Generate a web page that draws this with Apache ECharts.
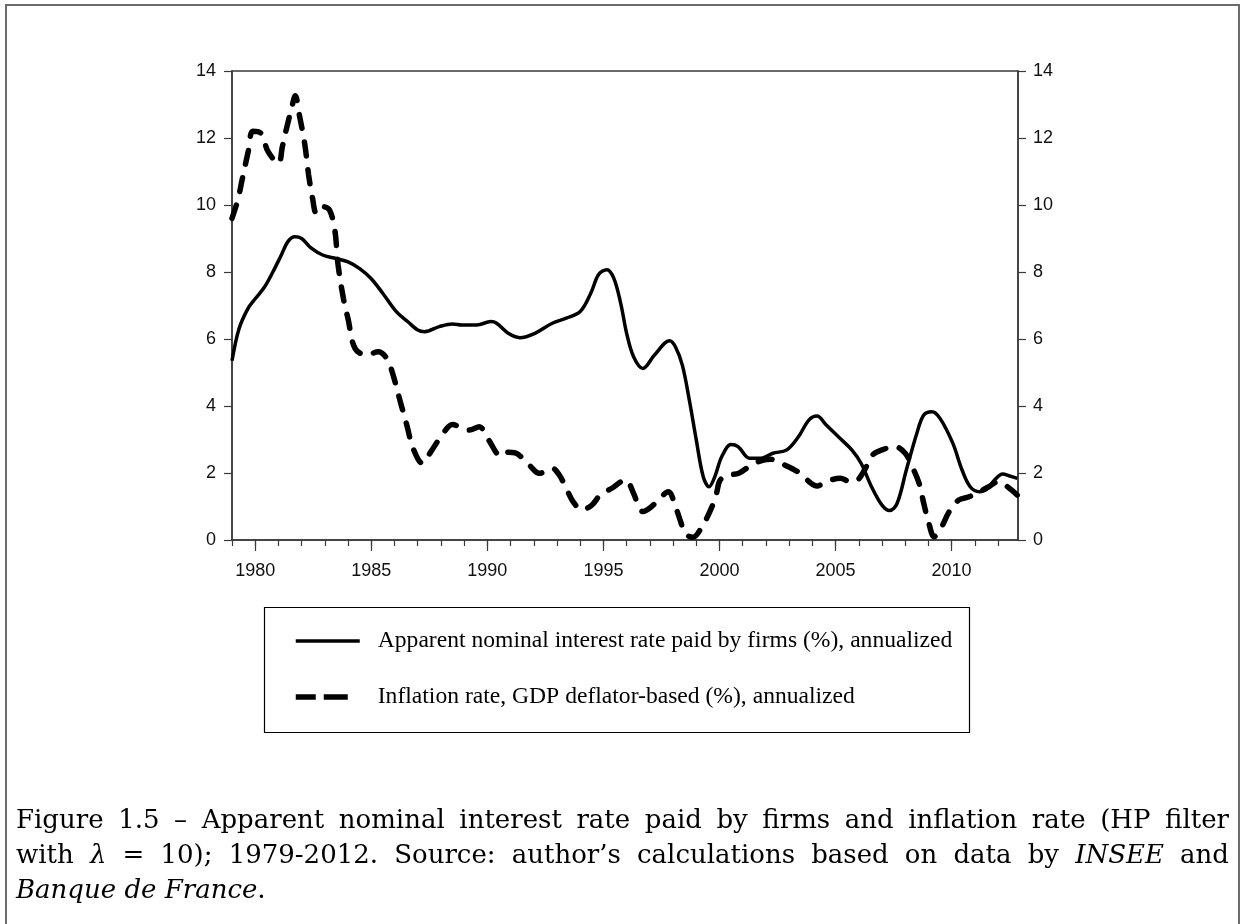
<!DOCTYPE html>
<html>
  <head>
    <meta charset="utf-8" />
    <style>
      html, body { margin: 0; height: 100%; background: #fff; }
      #container { width: 1245px; height: 924px; }
    </style>
  </head>
  <body>
    <div id="container"></div>
    <script src="https://cdn.jsdelivr.net/npm/echarts@6/dist/echarts.min.js"></script>
    <script>
      // apparent nominal interest rate paid by firms (%)
      const rateYears = [
        1979.0, 1979.3, 1979.68, 1980.0, 1980.4, 1980.76, 1981.12, 1981.4, 1981.7, 1982.0,
        1982.4, 1982.93, 1983.5, 1984.0, 1984.5, 1985.0, 1985.5, 1986.1, 1986.6, 1987.0,
        1987.3, 1987.93, 1988.5, 1988.9, 1989.55, 1990.15, 1990.4, 1990.9, 1991.4, 1992.05,
        1992.8, 1993.4, 1994.0, 1994.45, 1994.8, 1995.15, 1995.45, 1995.75, 1996.0, 1996.3,
        1996.7, 1997.2, 1997.85, 1998.1, 1998.4, 1998.7, 1999.0, 1999.3, 1999.55, 1999.8,
        2000.1, 2000.5, 2000.8, 2001.3, 2001.8, 2002.3, 2002.9, 2003.4, 2003.85, 2004.2,
        2004.6, 2005.2, 2005.7, 2006.1, 2006.55, 2007.0, 2007.33, 2007.65, 2008.05, 2008.5,
        2008.8, 2009.15, 2009.5, 2010.05, 2010.45, 2010.8, 2011.2, 2011.55, 2011.85, 2012.2,
        2012.5, 2012.83
      ]
      const rateValues = [
        5.35, 6.3, 6.9, 7.2, 7.55, 8.0, 8.5, 8.9, 9.05, 9.0,
        8.72, 8.5, 8.4, 8.3, 8.1, 7.8, 7.36, 6.8, 6.5, 6.27,
        6.22, 6.37, 6.45, 6.42, 6.42, 6.52, 6.47, 6.17, 6.04, 6.17,
        6.47, 6.62, 6.82, 7.36, 7.93, 8.07, 7.81, 7.05, 6.17, 5.47,
        5.12, 5.52, 5.95, 5.77, 5.22, 4.18, 2.99, 1.89, 1.59, 1.89,
        2.49, 2.85, 2.79, 2.44, 2.44, 2.59, 2.69, 3.08, 3.58, 3.7,
        3.43, 3.03, 2.69, 2.29, 1.59, 1.04, 0.88, 1.09, 2.09, 3.18,
        3.73, 3.83, 3.63, 2.89, 2.09, 1.59, 1.44, 1.54, 1.79, 1.97,
        1.91, 1.84
      ]

      // inflation rate, GDP deflator-based (%)
      const inflYears = [
        1979.0, 1979.25, 1979.45, 1979.7, 1979.9, 1980.25, 1980.55, 1981.0, 1981.17, 1981.35,
        1981.55, 1981.73, 1981.9, 1982.13, 1982.3, 1982.47, 1982.64, 1982.92, 1983.2, 1983.43,
        1983.57, 1983.8, 1984.0, 1984.3, 1984.8, 1985.3, 1985.67, 1985.9, 1986.25, 1986.53,
        1986.8, 1987.2, 1987.57, 1988.0, 1988.5, 1988.93, 1989.22, 1989.65, 1990.05, 1990.6,
        1990.9, 1991.2, 1991.8, 1992.24, 1992.8, 1993.1, 1993.4, 1993.7, 1994.07, 1994.5,
        1994.86, 1995.4, 1995.95, 1996.3, 1996.5, 1996.7, 1997.23, 1997.8, 1998.1, 1998.35,
        1998.5, 1998.85, 1999.25, 1999.65, 1999.87, 2000.03, 2000.4, 2000.83, 2001.5, 2002.2,
        2002.8, 2003.43, 2003.95, 2004.2, 2004.58, 2005.2, 2005.65, 2005.95, 2006.25, 2006.6,
        2007.0, 2007.55, 2008.0, 2008.3, 2008.6, 2008.8, 2009.0, 2009.25, 2009.5, 2009.9,
        2010.3, 2010.75, 2011.2, 2011.6, 2012.0, 2012.5, 2012.83
      ]
      const inflValues = [
        9.6, 10.15, 10.8, 11.6, 12.2, 12.14, 11.6, 11.24, 11.74, 12.29,
        12.84, 13.26, 12.69, 11.84, 10.9, 10.2, 9.75, 9.95, 9.85, 9.25,
        8.21, 7.21, 6.6, 5.72, 5.52, 5.62, 5.42, 5.02, 4.13, 3.43,
        2.74, 2.29, 2.64, 3.08, 3.45, 3.33, 3.28, 3.38, 2.99, 2.5,
        2.62, 2.6, 2.24, 1.99, 2.14, 1.94, 1.54, 1.14, 0.9, 1.04,
        1.34, 1.56, 1.8, 1.39, 1.04, 0.85, 1.09, 1.44, 1.0, 0.5,
        0.2, 0.08, 0.4, 0.95, 1.39, 1.79, 1.94, 1.99, 2.29, 2.41,
        2.24, 2.01, 1.69, 1.61, 1.74, 1.84, 1.74, 1.79, 2.09, 2.54,
        2.69, 2.79, 2.59, 2.19, 1.69, 1.09, 0.55, 0.1, 0.3, 0.85,
        1.19, 1.29, 1.44, 1.59, 1.74, 1.54, 1.34
      ]

      const allYears = []
      for (let y = 1979; y <= 2012; y++) allYears.push(y)
      const labelYears = [1980, 1985, 1990, 1995, 2000, 2005, 2010]

      const seriesNames = [
        'Apparent nominal interest rate paid by firms (%), annualized',
        'Inflation rate, GDP deflator-based (%), annualized'
      ]

      // caption words, justified over the full width like the original
      const captionLine1 = 'Figure 1.5 – Apparent nominal interest rate paid by firms and inflation rate (HP filter'
        .split(' ').map((t) => ({ t, it: false }))
      const captionLine2 = [
        { t: 'with' }, { t: 'λ', it: true }, { t: '=' }, { t: '10);' }, { t: '1979-2012.' },
        { t: 'Source:' }, { t: 'author’s' }, { t: 'calculations' }, { t: 'based' }, { t: 'on' },
        { t: 'data' }, { t: 'by' }, { t: 'INSEE', it: true }, { t: 'and' }
      ]

      const CAP_FONT = 'DejaVu Serif'
      const CAP_SIZE = 26
      const measureCtx = document.createElement('canvas').getContext('2d')

      function justifyLine(words, y, x0, x1) {
        const widths = words.map((w) => {
          measureCtx.font = (w.it ? 'italic ' : '') + CAP_SIZE + 'px "' + CAP_FONT + '"'
          return measureCtx.measureText(w.t).width
        })
        const total = widths.reduce((a, b) => a + b, 0)
        const gap = (x1 - x0 - total) / (words.length - 1)
        let x = x0
        return words.map((w, i) => {
          const el = {
            type: 'text',
            x: x,
            y: y,
            style: {
              text: w.t,
              fill: '#000',
              font: (w.it ? 'italic ' : '') + CAP_SIZE + 'px "' + CAP_FONT + '"',
              verticalAlign: 'middle'
            }
          }
          x += widths[i] + gap
          return el
        })
      }

      const chart = echarts.init(document.getElementById('container'), null, { renderer: 'canvas' })

      const axisColor = '#3a3a3a'
      const labelStyle = { color: '#111', fontFamily: 'Liberation Sans', fontSize: 18 }

      const option = {
        backgroundColor: '#fff',
        animation: false,
        grid: {
          left: 232, right: 227, top: 71, bottom: 384,
          show: true, borderColor: axisColor, borderWidth: 1.5, backgroundColor: 'transparent'
        },
        xAxis: [
          {
            type: 'value', min: 1979, max: 2012.86,
            axisLine: { lineStyle: { color: axisColor, width: 1.5 } },
            axisTick: { show: true, length: 6, customValues: allYears, lineStyle: { color: axisColor, width: 1.2 } },
            axisLabel: { show: false },
            splitLine: { show: false }
          },
          {
            type: 'value', min: 1979, max: 2012.86, position: 'bottom',
            axisLine: { show: false },
            axisTick: { show: true, length: 11, customValues: labelYears, lineStyle: { color: axisColor, width: 1.2 } },
            axisLabel: Object.assign({ margin: 22, customValues: labelYears, formatter: (v) => String(v) }, labelStyle),
            splitLine: { show: false }
          }
        ],
        yAxis: [
          {
            type: 'value', min: 0, max: 14, interval: 2, position: 'left',
            axisLine: { show: true, lineStyle: { color: axisColor, width: 1.5 } },
            axisTick: { show: true, length: 8, lineStyle: { color: axisColor, width: 1.2 } },
            axisLabel: Object.assign({ margin: 16 }, labelStyle),
            splitLine: { show: false }
          },
          {
            type: 'value', min: 0, max: 14, interval: 2, position: 'right',
            axisLine: { show: true, lineStyle: { color: axisColor, width: 1.5 } },
            axisTick: { show: true, length: 8, lineStyle: { color: axisColor, width: 1.2 } },
            axisLabel: Object.assign({ margin: 15 }, labelStyle),
            splitLine: { show: false }
          }
        ],
        legend: {
          orient: 'vertical',
          left: 293,
          top: 629,
          padding: 0,
          itemWidth: 64,
          itemHeight: 14,
          itemGap: 32,
          itemStyle: { opacity: 0, borderWidth: 0 },
          textStyle: { color: '#000', fontFamily: 'Liberation Serif', fontSize: 23.6, padding: [0, 0, 0, 13] },
          data: [
            { name: seriesNames[0], itemStyle: { opacity: 0 }, lineStyle: { width: 3.5, cap: 'butt', opacity: 1 } },
            { name: seriesNames[1], itemStyle: { opacity: 0 }, lineStyle: { width: 5.5, cap: 'butt', opacity: 1, type: [20, 8, 24, 100] } }
          ]
        },
        series: [
          {
            name: seriesNames[0],
            type: 'line',
            symbol: 'none',
            smooth: 0.35,
            xAxisIndex: 0,
            yAxisIndex: 0,
            lineStyle: { color: '#000', width: 3.5 },
            itemStyle: { color: '#000' },
            data: rateYears.map((y, i) => [y, rateValues[i]])
          },
          {
            name: seriesNames[1],
            type: 'line',
            symbol: 'none',
            smooth: 0.35,
            xAxisIndex: 0,
            yAxisIndex: 0,
            lineStyle: { color: '#000', width: 5.5, type: [14, 14], cap: 'round' },
            itemStyle: { color: '#000' },
            data: inflYears.map((y, i) => [y, inflValues[i]])
          }
        ],
        graphic: [
          {
            type: 'rect',
            shape: { x: 6, y: 5, width: 1233, height: 1000 },
            style: { fill: 'none', stroke: '#6b6b6b', lineWidth: 2 },
            silent: true
          },
          {
            type: 'rect',
            shape: { x: 264.5, y: 607.5, width: 705, height: 125 },
            style: { fill: 'none', stroke: '#000', lineWidth: 1.2 },
            silent: true
          }
        ]
          .concat(justifyLine(captionLine1, 821, 16, 1229))
          .concat(justifyLine(captionLine2, 856, 16, 1229))
          .concat([
            {
              type: 'text',
              x: 16,
              y: 891,
              style: {
                text: '{i|Banque de France}{n|.}',
                fill: '#000',
                verticalAlign: 'middle',
                rich: {
                  i: { fontFamily: CAP_FONT, fontSize: CAP_SIZE, fontStyle: 'italic', fill: '#000' },
                  n: { fontFamily: CAP_FONT, fontSize: CAP_SIZE, fill: '#000' }
                }
              }
            }
          ])
      }

      chart.setOption(option)
      window.addEventListener('resize', chart.resize)
    </script>
  </body>
</html>
